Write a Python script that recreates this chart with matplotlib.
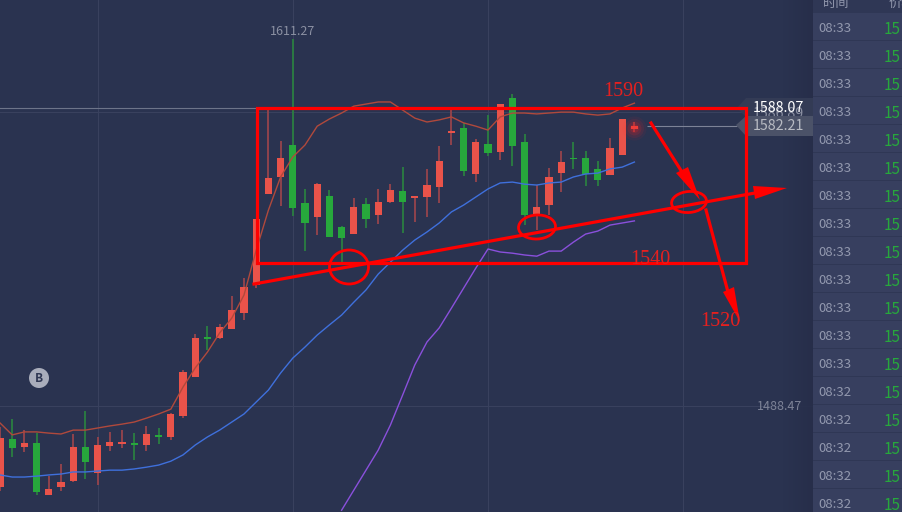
import numpy as np
import matplotlib
matplotlib.use("Agg")
import matplotlib.pyplot as plt
from matplotlib.patches import Rectangle, Ellipse, Polygon

plt.rcParams['font.family'] = ['Noto Sans CJK SC', 'DejaVu Sans']

# candles: red = close above open
opens = [1461.3, 1477.4, 1474.7, 1476.1, 1458.7, 1461.3, 1463.4, 1474.7, 1466.0, 1475.1, 1475.7, 1476.1, 1475.4, 1478.4,
         1478.1, 1485.1, 1498.2, 1511.2, 1511.2, 1514.2, 1519.6, 1528.9, 1559.4, 1565.1, 1575.8, 1556.4, 1551.7, 1558.7,
         1548.3, 1546.0, 1556.0, 1552.4, 1556.7, 1560.4, 1558.0, 1558.4, 1561.7, 1579.8, 1581.5, 1566.1, 1576.1, 1573.4,
         1591.5, 1576.8, 1552.4, 1555.7, 1566.4, 1571.4, 1571.4, 1567.8, 1565.7, 1572.4, 1581.1]
closes = [1477.8, 1474.4, 1476.1, 1459.7, 1460.7, 1463.0, 1474.7, 1469.7, 1475.4, 1476.4, 1476.4, 1475.4, 1479.1, 1478.1,
          1485.8, 1499.8, 1511.2, 1510.9, 1514.9, 1520.6, 1528.3, 1551.0, 1564.7, 1571.4, 1554.7, 1549.7, 1562.7, 1545.0,
          1544.7, 1555.0, 1551.0, 1556.7, 1560.7, 1556.7, 1558.7, 1562.4, 1570.4, 1580.5, 1567.1, 1576.8, 1573.1, 1589.5,
          1575.5, 1552.4, 1555.0, 1565.1, 1570.1, 1571.1, 1566.1, 1564.1, 1574.8, 1584.5, 1582.21]
highs = [1481.4, 1484.1, 1480.4, 1479.4, 1465.0, 1469.0, 1479.1, 1486.8, 1478.1, 1479.8, 1480.4, 1479.4, 1481.8, 1481.1,
         1486.1, 1500.5, 1512.5, 1515.2, 1515.9, 1525.3, 1531.3, 1551.0, 1587.5, 1577.1, 1611.27, 1561.1, 1563.1, 1560.7,
         1548.7, 1558.0, 1558.0, 1561.1, 1562.7, 1568.4, 1558.7, 1567.8, 1575.5, 1587.5, 1583.2, 1577.8, 1585.8, 1589.5,
         1592.8, 1579.5, 1562.4, 1568.1, 1573.8, 1576.8, 1573.8, 1570.4, 1578.1, 1584.5, 1583.5]
lows = [1460.0, 1471.4, 1473.1, 1458.7, 1458.7, 1460.0, 1463.0, 1464.0, 1462.0, 1473.4, 1474.4, 1470.4, 1473.4, 1475.7,
        1477.1, 1484.4, 1498.2, 1507.2, 1510.9, 1514.2, 1517.2, 1527.9, 1559.4, 1555.4, 1552.0, 1540.3, 1545.7, 1545.0,
        1536.3, 1546.0, 1548.0, 1549.4, 1556.4, 1546.3, 1550.0, 1551.7, 1556.4, 1575.8, 1565.4, 1563.4, 1572.1, 1570.8,
        1568.8, 1549.0, 1547.3, 1552.4, 1560.1, 1567.8, 1562.1, 1562.1, 1565.7, 1572.4, 1580.1]

band_up = [1482.8, 1478.8, 1479.8, 1479.8, 1479.4, 1479.1, 1480.4, 1480.4, 1481.1, 1481.8, 1482.4, 1483.1, 1484.4, 1485.8,
           1487.4, 1494.8, 1501.2, 1506.5, 1512.9, 1517.9, 1525.6, 1540.6, 1554.0, 1565.1, 1571.8, 1575.8, 1582.1, 1584.5,
           1586.5, 1588.8, 1589.5, 1590.2, 1590.2, 1587.5, 1584.8, 1583.5, 1584.2, 1585.2, 1583.2, 1582.1, 1580.8, 1585.2,
           1586.5, 1586.5, 1586.2, 1586.5, 1586.8, 1586.8, 1586.2, 1585.8, 1586.2, 1588.2, 1589.8]
band_mid = [1465.4, 1464.7, 1464.7, 1465.0, 1465.4, 1465.7, 1466.4, 1466.4, 1466.7, 1467.0, 1467.0, 1467.4, 1468.0, 1468.7,
            1470.0, 1472.1, 1475.4, 1478.1, 1480.4, 1483.1, 1485.8, 1489.8, 1493.8, 1499.5, 1504.5, 1508.2, 1512.2, 1515.6,
            1518.9, 1523.2, 1527.3, 1532.6, 1536.6, 1540.6, 1544.0, 1546.7, 1549.7, 1553.4, 1555.7, 1558.4, 1561.1, 1563.1,
            1563.4, 1562.7, 1562.4, 1563.1, 1563.4, 1565.1, 1566.1, 1566.4, 1567.8, 1568.4, 1570.1]
# lower band only comes into view from candle 28
band_low_start = 28
band_low = [1453.6, 1460.3, 1467.0, 1473.7, 1482.1, 1492.1, 1502.2, 1509.9, 1514.6, 1521.2, 1527.9, 1534.6, 1541.0,
            1540.0, 1539.6, 1539.0, 1538.6, 1540.3, 1540.3, 1543.3, 1546.0, 1547.0, 1549.0, 1549.7, 1550.4]

grid_prices = [1488.47, 1586.89]
grid_candles = [8, 24, 40, 56]
max_price = 1611.27
last_price = 1582.21
ask_price = 1588.07

# right hand trade list
times = ['08:33'] * 13 + ['08:32'] * 5
row_prices = ['15'] * 18

BG = '#2a3350'
RED = '#e9534a'
GREEN = '#27a83c'
PEN = '#ff0000'

fig = plt.figure(figsize=(9.03, 5.12), dpi=100, facecolor=BG)
ax = fig.add_axes([0, 0, 813 / 903, 1])
ax.set_facecolor(BG)
ax.set_xlim(0, 813 / 12.2)
ax.set_ylim(1453.0, 1624.32)
for s in ax.spines.values():
    s.set_visible(False)
ax.set_xticks(grid_candles)
ax.set_yticks(grid_prices)
ax.tick_params(length=0, labelbottom=False, labelleft=False)
ax.grid(True, color='#39415e', lw=0.8)
ax.set_axisbelow(True)

x = np.arange(len(opens))
o, c, h, l = map(np.array, (opens, closes, highs, lows))
up = c >= o
ax.vlines(x[up], l[up], h[up], color='#97444c', lw=1.3, zorder=2)
ax.vlines(x[~up], l[~up], h[~up], color='#2a7f41', lw=1.3, zorder=2)
body = np.maximum(np.abs(c - o), 0.5)
ax.bar(x, body, bottom=np.minimum(o, c), width=0.6, color=[RED if u else GREEN for u in up], zorder=3)

ax.plot(x, band_up, color='#b0493c', lw=1.0, zorder=4)
ax.plot(x, band_mid, color='#3f70dc', lw=1.0, zorder=4)
ax.plot(x[band_low_start:], band_low, color='#8a50dc', lw=1.0, zorder=4)

# glow on the live candle
mid_last = (opens[-1] + closes[-1]) / 2
for size, alpha in [(300, 0.06), (190, 0.09), (100, 0.14), (40, 0.2)]:
    ax.scatter(x[-1], mid_last, s=size, color='#ff2020', alpha=alpha, lw=0, zorder=5)

ax.axhline(ask_price, xmax=737 / 813, color='#6d7489', lw=0.8, zorder=1)
ax.hlines(last_price, x[-1] + 1, 737 / 12.2, color='#7d8397', lw=0.8, zorder=1)

ax.text(24, max_price + 2.5, '1611.27', color='#8b90a2', fontsize=9, ha='center', va='center')

# overlay in pixels for the panel, tags and the hand drawn marks
ov = fig.add_axes([0, 0, 1, 1])
ov.axis('off')

# shade next to the panel
shade = np.linspace(0, 1, 30).reshape(1, -1)
ov.imshow(shade, extent=(783, 813, 512, 0), aspect='auto', alpha=0.9, zorder=1,
          cmap=matplotlib.colors.LinearSegmentedColormap.from_list('s', [BG, '#272e4a']))
ov.set_xlim(0, 903)
ov.set_ylim(512, 0)

ov.text(780, 406, '%.2f' % grid_prices[0], color='#7d8397', fontsize=9, ha='center', va='center', zorder=3)

ov.add_patch(Rectangle((813, 0), 90, 512, color='#2f3755', lw=0, zorder=2))
for i in range(18):
    ov.add_patch(Rectangle((813, 13 + 28 * i), 90, 27, color='#373f5f', lw=0, zorder=2))
ov.text(836, 3, '时间', color='#8f95ab', fontsize=9.5, ha='center', va='center', zorder=3)
ov.text(889, 3, '价格', color='#8f95ab', fontsize=9.5, ha='left', va='center', zorder=3)
for i, t in enumerate(times):
    ov.text(835, 29 + 28 * i, t, color='#9298ae', fontsize=9.5, ha='center', va='center', zorder=3)
    ov.text(884, 29 + 28 * i, row_prices[i], color='#27a83c', fontsize=11, ha='left', va='center', zorder=3)

# price tags
ov.add_patch(Polygon([(737, 108), (746, 98), (813, 98), (813, 117), (746, 117)], color='#333b55', lw=0, zorder=3))
ov.text(778, 114, '1586.89', color='#8b90a2', fontsize=10.3, ha='center', va='center', zorder=3.1)
ov.text(778, 108, '%.2f' % ask_price, color='white', fontsize=10.3, ha='center', va='center', zorder=3.2)
ov.add_patch(Polygon([(736, 125), (746, 116), (813, 116), (813, 136), (746, 136)], color='#4b5268', lw=0, zorder=3.3))
ov.text(778, 126, '%.2f' % last_price, color='#b8bbc3', fontsize=10.3, ha='center', va='center', zorder=3.4)

# hand drawn box, trend line, circles and arrows
ov.add_patch(Rectangle((257, 108), 489, 155, fill=False, ec=PEN, lw=2.3, zorder=6))
ov.plot([254, 755], [284, 193], color=PEN, lw=2.3, zorder=6)
ov.add_patch(Polygon([(753, 186), (787, 188), (755, 199)], color=PEN, lw=0, zorder=6))
ov.add_patch(Ellipse((349, 267), 39, 34, fill=False, ec=PEN, lw=2, zorder=6))
ov.add_patch(Ellipse((537, 227), 37, 24, angle=-3, fill=False, ec=PEN, lw=2, zorder=6))
ov.add_patch(Ellipse((689, 202), 35, 21, angle=-5, fill=False, ec=PEN, lw=2, zorder=6))
ov.plot([651, 682], [123, 172], color=PEN, lw=2.3, zorder=6)
ov.add_patch(Polygon([(676, 173), (688, 167), (700, 200)], color=PEN, lw=0, zorder=6))
ov.plot([706, 728], [210, 292], color=PEN, lw=2.3, zorder=6)
ov.add_patch(Polygon([(723, 292), (734, 287), (740, 322)], color=PEN, lw=0, zorder=6))

for label, tx, ty in [('1590', 623, 92), ('1540', 650, 259), ('1520', 720, 321)]:
    ov.text(tx, ty, label, color='#e5201f', fontsize=14.5, family='Liberation Serif', ha='center', va='center', zorder=7)

# B badge
ov.add_patch(Ellipse((39, 378), 20, 20, color='#a9adbb', lw=0, zorder=6))
ov.text(39, 378, 'B', color='#2f3753', fontsize=8.5, fontweight='bold', ha='center', va='center', zorder=7)

fig.savefig('out.png', dpi=100, facecolor=BG)
